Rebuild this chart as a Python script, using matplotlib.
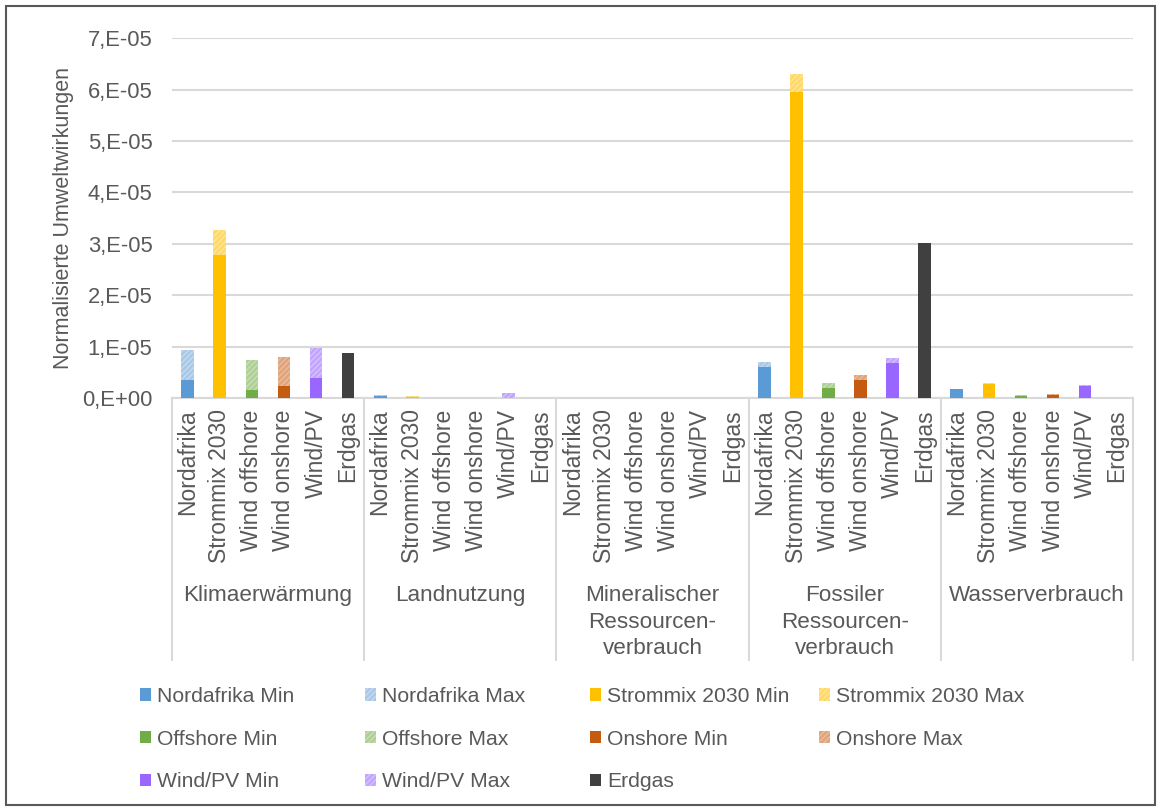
import numpy as np
import matplotlib
matplotlib.use("Agg")
from matplotlib import pyplot as plt
from matplotlib.patches import Patch, Rectangle
from matplotlib.ticker import FuncFormatter, MultipleLocator

plt.rcParams['font.family'] = ['Liberation Sans', 'DejaVu Sans']
plt.rcParams['hatch.linewidth'] = 1.0

groups = ['Klimaerwärmung', 'Landnutzung', 'Mineralischer\nRessourcen-\nverbrauch',
          'Fossiler\nRessourcen-\nverbrauch', 'Wasserverbrauch']
techs = ['Nordafrika', 'Strommix 2030', 'Wind offshore', 'Wind onshore', 'Wind/PV', 'Erdgas']

# values in units of 1e-5, one entry per impact category
nordafrika_min = [0.35, 0.05, 0.0, 0.60, 0.17]
nordafrika_max = [0.93, 0.07, 0.0, 0.70, 0.18]
strommix_min = [2.79, 0.03, 0.0, 5.96, 0.27]
strommix_max = [3.27, 0.05, 0.0, 6.31, 0.29]
offshore_min = [0.16, 0.0, 0.0, 0.20, 0.05]
offshore_max = [0.74, 0.0, 0.0, 0.30, 0.06]
onshore_min = [0.23, 0.0, 0.0, 0.35, 0.07]
onshore_max = [0.81, 0.0, 0.0, 0.45, 0.08]
windpv_min = [0.40, 0.0, 0.0, 0.68, 0.24]
windpv_max = [0.97, 0.10, 0.0, 0.78, 0.25]
erdgas = [0.88, 0.0, 0.0, 3.01, 0.0]

series = [
    ('Nordafrika', nordafrika_min, nordafrika_max, '#5B9BD5', '#A9C8E8', '#C4DAF0'),
    ('Strommix 2030', strommix_min, strommix_max, '#FFC000', '#FFD966', '#FFE59A'),
    ('Offshore', offshore_min, offshore_max, '#70AD47', '#AECF95', '#C7DFB5'),
    ('Onshore', onshore_min, onshore_max, '#C55A11', '#E0A47C', '#EBBD9D'),
    ('Wind/PV', windpv_min, windpv_max, '#9966FF', '#C2A3FF', '#D6C2FF'),
]

text_col = '#595959'
grid_col = '#D9D9D9'
scale = 1e-5

fig = plt.figure(figsize=(11.61, 8.11), dpi=100)
ax = fig.add_axes([0.148, 0.509, 0.828, 0.444])

n_tech = len(techs)
handles = {}
for i, (name, vmin, vmax, c_min, c_max, c_hatch) in enumerate(series):
    x = np.arange(len(groups)) * n_tech + i
    lo = np.array(vmin) * scale
    hi = (np.array(vmax) - np.array(vmin)) * scale
    ax.bar(x, lo, width=0.4, color=c_min, linewidth=0, zorder=3)
    ax.bar(x, hi, bottom=lo, width=0.4, facecolor=c_max, edgecolor=c_hatch,
           hatch='//////', linewidth=0, zorder=3)
    handles[name + ' Min'] = Patch(facecolor=c_min, linewidth=0)
    handles[name + ' Max'] = Patch(facecolor=c_max, edgecolor=c_hatch, hatch='//////', linewidth=0)

x_gas = np.arange(len(groups)) * n_tech + 5
ax.bar(x_gas, np.array(erdgas) * scale, width=0.4, color='#404040', zorder=3)
handles['Erdgas'] = Patch(facecolor='#404040', linewidth=0)

ax.set_xlim(-0.5, len(groups) * n_tech - 0.5)
ax.set_ylim(0, 7e-5)
ax.yaxis.set_major_locator(MultipleLocator(1e-5))


def sci_fmt(v, pos):
    k = int(round(v / scale))
    return '0,E+00' if k == 0 else f'{k},E-05'


ax.yaxis.set_major_formatter(FuncFormatter(sci_fmt))
ax.grid(axis='y', color=grid_col, linewidth=1.5, zorder=0)
for s in ['top', 'right', 'left']:
    ax.spines[s].set_visible(False)
ax.spines['bottom'].set_color(grid_col)
ax.spines['bottom'].set_linewidth(1.5)
ax.tick_params(axis='y', length=0, pad=14, labelsize=15.8, labelcolor=text_col)
ax.tick_params(axis='x', length=0, pad=8, labelsize=16.5, labelcolor=text_col)

ax.set_xticks(np.arange(len(groups) * n_tech))
ax.set_xticklabels(techs * len(groups), rotation=90, va='top')
ax.set_ylabel('Normalisierte Umweltwirkungen', fontsize=15.5, color=text_col, labelpad=6)

# separators and group names under the axis
for g in range(len(groups) + 1):
    ax.plot([g * n_tech - 0.5] * 2, [0, -0.728], transform=ax.get_xaxis_transform(),
            color=grid_col, linewidth=1.5, clip_on=False)
for g, name in enumerate(groups):
    ax.text(g * n_tech + 2.5, -0.52, name, transform=ax.get_xaxis_transform(),
            ha='center', va='top', fontsize=16.2, color=text_col, linespacing=1.33)

# legend as four columns
cols = [
    ['Nordafrika Min', 'Offshore Min', 'Wind/PV Min'],
    ['Nordafrika Max', 'Offshore Max', 'Wind/PV Max'],
    ['Strommix 2030 Min', 'Onshore Min', 'Erdgas'],
    ['Strommix 2030 Max', 'Onshore Max'],
]
col_x = [140, 365, 590, 819]
for labels, px in zip(cols, col_x):
    fig.legend([handles[l] for l in labels], labels, loc='upper left',
               bbox_to_anchor=(px / 1161, 1 - 687 / 811), frameon=False,
               fontsize=15.2, labelcolor=text_col, handlelength=0.5, handleheight=0.5,
               handletextpad=0.3, labelspacing=1.12, borderpad=0, borderaxespad=0)

fig.patches.append(Rectangle((6 / 1161, 6 / 811), 1 - 12 / 1161, 1 - 12 / 811,
                             transform=fig.transFigure, fill=False,
                             edgecolor='#595959', linewidth=1.5))

fig.savefig('out.png', dpi=100)
